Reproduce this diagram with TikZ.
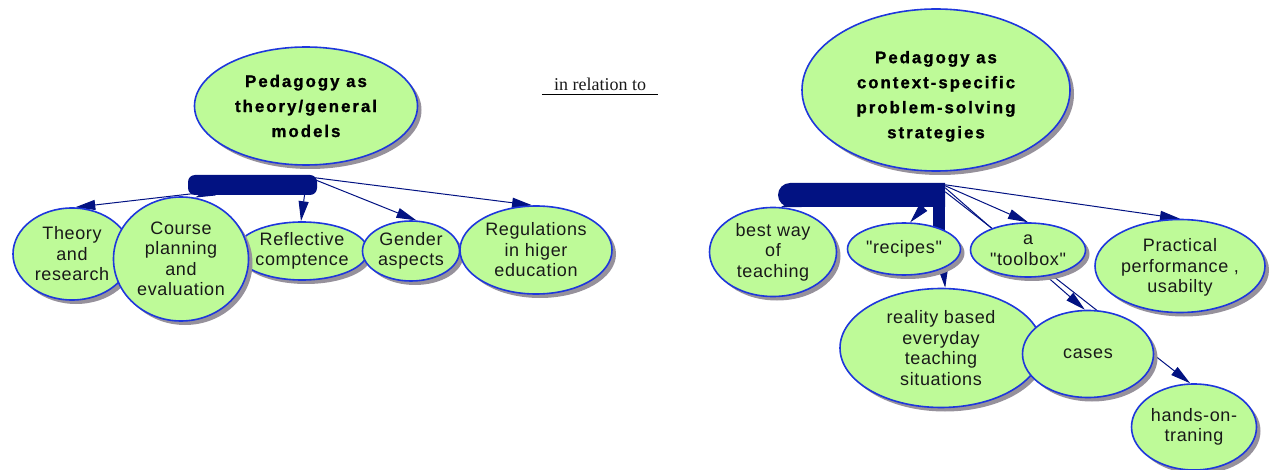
\documentclass[tikz,border=0pt]{standalone}
\usepackage{fontspec}
\usepackage{tikz}
\usetikzlibrary{arrows.meta}
\usetikzlibrary{shapes.geometric, shapes.misc, shadows, backgrounds}
\newfontfamily\bubblefont[LetterSpace=3.5]{Liberation Sans}
\newfontfamily\headfont[LetterSpace=12,FakeBold=1.2]{Liberation Sans Bold}
\newfontfamily\relfont{Liberation Serif}
\definecolor{bubblegreen}{RGB}{190,250,152}
\definecolor{rimblue}{RGB}{30,55,220}
\definecolor{barnavy}{RGB}{2,18,130}
\definecolor{shadowgray}{RGB}{150,145,155}
\definecolor{textgray}{RGB}{25,25,25}

\begin{document}
\begin{tikzpicture}[x=1pt,y=-1pt,
  bubble/.style={draw=rimblue, line width=1.6pt, fill=bubblegreen, ellipse, inner sep=0pt, align=center, text=textgray, font=\bubblefont\fontsize{18}{20.5}\selectfont, drop shadow={shadow xshift=4pt, shadow yshift=-4pt, fill=shadowgray, opacity=1}},
  head/.style={bubble, text=black, font=\headfont\fontsize{16.8}{25}\selectfont},
  bar/.style={fill=barnavy, inner sep=0pt},
  link/.style={draw=barnavy, line width=1pt, -{Triangle[length=20pt,width=10pt]}}]
\useasboundingbox (0,0) rectangle (1271,470);

% the two main ideas
\node[head, minimum width=223pt, minimum height=118pt] (theo) at (306,106) {Pedagogy as\\theory/general\\models};
\node[head, minimum width=268pt, minimum height=162pt] (ctx) at (936,90) {\rule{0pt}{25pt}Pedagogy as\\context-specific\\problem-solving\\strategies};
\node[font=\relfont\fontsize{18}{20}\selectfont, text=textgray, minimum width=116pt, inner xsep=0pt, inner ysep=3.5pt] (rel) at (600,84) {in relation to};
\draw[line width=0.8pt] (rel.south west) -- (rel.south east);

% left side
\node[bar, rounded corners=7pt, minimum width=129pt, minimum height=20pt] (lbar) at (252.5,185) {};
\node[bubble, minimum width=118pt, minimum height=92pt] (theory) at (72,254) {Theory\\and\\research};
\node[bubble, minimum width=130pt, minimum height=58pt] (reflect) at (302,251) {Reflective\\comptence};
\node[bubble, minimum width=97pt, minimum height=60pt] (gender) at (411,251) {Gender\\aspects};
\node[bubble, minimum width=152pt, minimum height=88pt] (regul) at (536,250) {Regulations\\in higer\\education};
\node[bubble, minimum width=135pt, minimum height=124pt] (course) at (181,259) {Course\\planning\\and\\evaluation};

% right side
\node[bar, rounded rectangle, rounded rectangle right arc=none, minimum width=167pt, minimum height=24pt] (rbar) at (861.5,195) {};
\node[bar, minimum width=12pt, minimum height=52pt] (stem) at (939,209) {};
\node[bubble, minimum width=127pt, minimum height=89pt] (best) at (773,252) {best way\\of\\teaching};
\node[bubble, minimum width=113pt, minimum height=52pt] (recipes) at (904,249) {"recipes"};
\node[bubble, minimum width=115pt, minimum height=54pt] (toolbox) at (1028,250) {a\\"toolbox"};
\node[bubble, minimum width=170pt, minimum height=93pt] (practical) at (1180,266) {\rule{0pt}{16pt}Practical\\performance ,\\usabilty};
\node[bubble, minimum width=202pt, minimum height=119pt] (reality) at (941,348) {reality based\\everyday\\teaching\\situations};
\node[bubble, minimum width=131pt, minimum height=87pt] (cases) at (1088,354) {cases};
\node[bubble, minimum width=125pt, minimum height=86pt] (hands) at (1194,427) {hands-on-\\traning};

\begin{pgfonlayer}{background}
\draw[link] ([xshift=9pt,yshift=2pt]lbar.south west) -- (theory.86);
\draw[link] ([xshift=30pt,yshift=6pt]lbar.south west) -- (course.77);
\draw[link] ([xshift=-12pt,yshift=5pt]lbar.south east) -- (reflect.92);
\draw[link] ([xshift=-2pt,yshift=-5pt]lbar.north east) -- (gender.80);
\draw[link] ([xshift=-2pt,yshift=-3pt]lbar.north east) -- (regul.95);

\draw[link] ([xshift=30pt,yshift=10pt]rbar.south west) -- (best.80);
\draw[link] ([xshift=-17pt,yshift=5pt]rbar.south east) -- (recipes.77);
\draw[link] ([yshift=5pt]stem.south) -- (reality.86);
\draw[link] ([yshift=-3pt]rbar.north east) -- (toolbox.north);
\draw[link] ([yshift=-2pt]rbar.north east) -- (practical.north);
\draw[link] ([yshift=-5pt]rbar.north east) -- (cases.94);
\draw[link] ([yshift=-9pt]rbar.north east) -- (hands.95);
\end{pgfonlayer}
\end{tikzpicture}
\end{document}
